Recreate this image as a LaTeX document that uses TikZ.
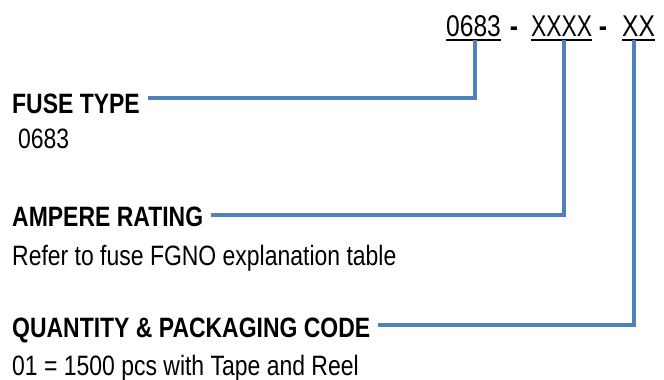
\documentclass[tikz,border=0pt]{standalone}
\usepackage{fontspec}
\setmainfont[FakeStretch=0.82]{Liberation Sans}
\definecolor{linkblue}{HTML}{4F81BD}
\begin{document}
\begin{tikzpicture}[x=1pt,y=-1pt,
  lbl/.style={inner sep=0pt,anchor=base west,font=\fontsize{28}{30}\selectfont\bfseries},
  body/.style={inner sep=0pt,anchor=base west,font=\fontsize{28}{30}\selectfont},
  code/.style={inner sep=0pt,anchor=base west,font=\fontsize{30}{32}\selectfont},
  sepdash/.style={inner sep=0pt,anchor=base,font=\fontsize{30}{32}\selectfont\bfseries},
  ul/.style={line width=2pt,black},
  conn/.style={line width=3.6pt,linkblue}]
\useasboundingbox (0,0) rectangle (664,380);
% part number
\node[code] (c1) at (446,36) {0683};
\node[code] (c2) at (531,36) {\scalebox{0.93}[1]{XXXX}};
\node[code] (c3) at (622,36) {XX};
\node[sepdash] (d1) at (514,36) {-};
\node[sepdash] (d2) at (603,36) {-};
\coordinate (u1) at ([yshift=-4pt]c1.base);
\coordinate (u2) at ([yshift=-4pt]c2.base);
\coordinate (u3) at ([yshift=-4pt]c3.base);
\draw[ul] ([yshift=-4pt]c1.base west) -- ([yshift=-4pt]c1.base east);
\draw[ul] ([yshift=-4pt]c2.base west) -- ([yshift=-4pt]c2.base east);
\draw[ul] ([yshift=-4pt]c3.base west) -- ([yshift=-4pt]c3.base east);
% labels
\node[lbl] (ft) at (12,113) {FUSE TYPE};
\node[body] (ftv) at (18,148) {0683};
\node[lbl] (ar) at (12,226) {AMPERE RATING};
\node[body] (arv) at (12,265) {Refer to fuse FGNO explanation table};
\node[lbl] (qp) at (12,337) {QUANTITY \& PACKAGING CODE};
\node[body] (qpv) at (12,375) {01 = 1500 pcs with Tape and Reel};
% connectors
\coordinate (k1) at (475,98);
\coordinate (k2) at (564,215);
\coordinate (k3) at (634,325);
\draw[conn] (ft.east |- k1) ++(8,0) -- (k1) -- (k1 |- u1);
\draw[conn] (ar.east |- k2) ++(8,0) -- (k2) -- (k2 |- u2);
\draw[conn] (qp.east |- k3) ++(8,0) -- (k3) -- (k3 |- u3);
\end{tikzpicture}
\end{document}
